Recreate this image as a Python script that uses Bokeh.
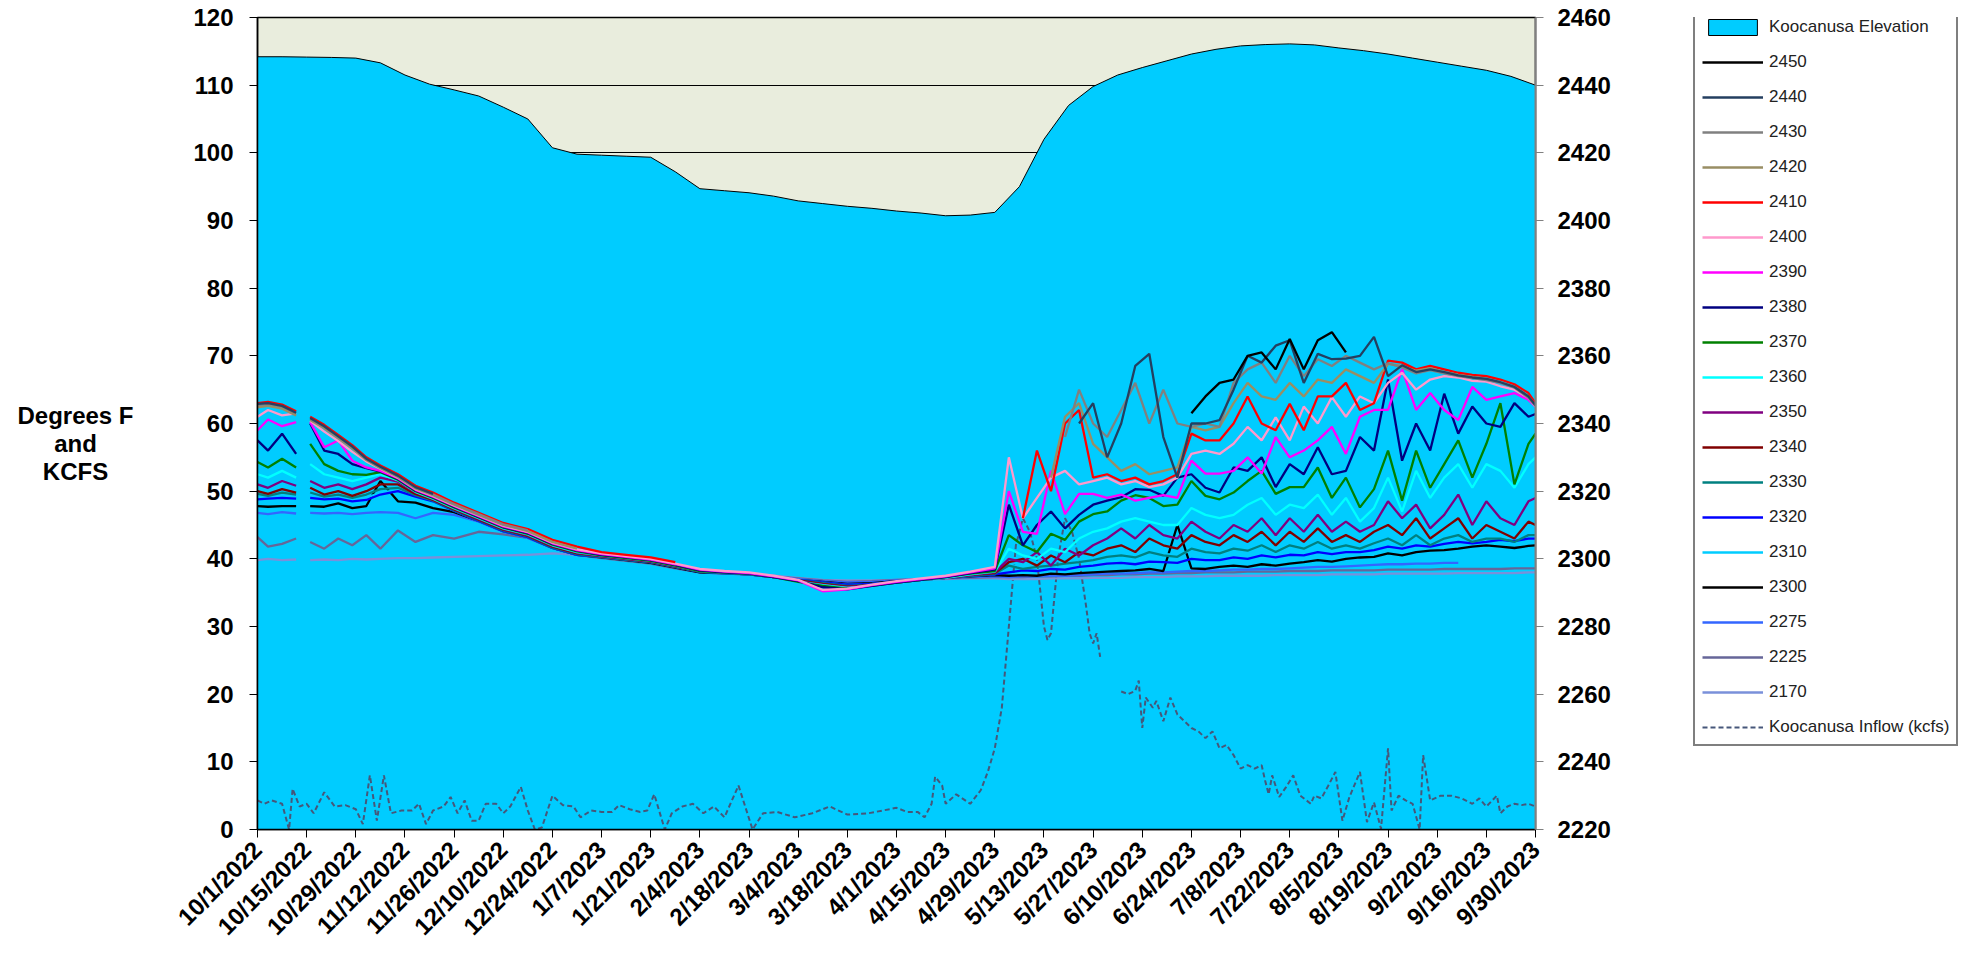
import math
from datetime import datetime
from bokeh.plotting import figure
from bokeh.layouts import row
from bokeh.models import (Range1d, LinearAxis, SingleIntervalTicker, FixedTicker,
                          Legend, LegendItem)
from bokeh.embed import file_html
from bokeh.resources import INLINE

N = float("nan")
START = datetime(2022, 10, 1)

# ---------------- tick labels ----------------
tick_labels = ["10/1/2022", "10/15/2022", "10/29/2022", "11/12/2022", "11/26/2022",
               "12/10/2022", "12/24/2022", "1/7/2023", "1/21/2023", "2/4/2023",
               "2/18/2023", "3/4/2023", "3/18/2023", "4/1/2023", "4/15/2023",
               "4/29/2023", "5/13/2023", "5/27/2023", "6/10/2023", "6/24/2023",
               "7/8/2023", "7/22/2023", "8/5/2023", "8/19/2023", "9/2/2023",
               "9/16/2023", "9/30/2023"]
tick_days = [(datetime.strptime(s, "%m/%d/%Y") - START).days for s in tick_labels]

# ---------------- Koocanusa elevation (ft), weekly from 10/1/2022 ----------------
elev_ft = [2448.4, 2448.4, 2448.3, 2448.2, 2448.0,
           2446.6, 2443.0, 2440.3, 2438.6,
           2436.8, 2433.5, 2430.0, 2421.5, 2419.6,
           2419.3, 2419.0, 2418.7, 2414.4,
           2409.4, 2408.8, 2408.2, 2407.2,
           2405.8, 2405.0, 2404.2, 2403.6,
           2402.8, 2402.2, 2401.4, 2401.6, 2402.4,
           2410.0, 2424.0, 2434.0, 2439.6,
           2443.0, 2445.2, 2447.2, 2449.2,
           2450.6, 2451.6, 2452.0, 2452.2, 2451.9,
           2451.0, 2450.2, 2449.2, 2448.0,
           2446.8, 2445.6, 2444.4, 2442.6, 2440.0]
elev_day = [7 * i for i in range(len(elev_ft))]

# ---------------- Koocanusa inflow (kcfs) ----------------
inflow_day = [0, 2, 4, 7, 9, 10, 12, 14, 16, 19,
              22, 25, 28, 30, 32, 34, 36, 38, 41, 44,
              46, 48, 50, 53, 55, 57, 59, 61, 63, 65,
              68, 70, 72, 75, 77, 79, 81, 84, 87, 90,
              92, 95, 98, 101, 103, 106, 109, 111, 113, 116,
              118, 121, 124, 127, 130, 133, 137, 141, 144, 148,
              153, 158, 163, 168, 174, 178, 182, 185, 188, 190,
              192, 193, 195, 196, 199, 203, 206, 208, 210, 212,
              214, 216, 218, 220, 222, 224, 225, 226, 228, 230,
              232, 234, 236, 237, 238, 239, 240, 243, 246, 248,
              250, 251, 252, 253, 255, 256, 258, 260, 262, 264,
              266, 268, 270, 272, 274, 276, 278, 280, 282, 284,
              286, 287, 288, 289, 291, 293, 295, 297, 300, 301,
              303, 305, 307, 309, 311, 314, 316, 318, 320, 322,
              323, 325, 327, 329, 331, 332, 334, 337, 340, 343,
              346, 348, 350, 353, 354, 356, 358, 360, 362, 364]
inflow_kcfs = [4.3, 3.8, 4.3, 3.8, 0.0, 6.0, 3.4, 3.8, 2.4, 5.5,
               3.4, 3.6, 3.0, 0.8, 8.0, 1.3, 8.0, 2.4, 2.8, 2.8,
               3.8, 0.8, 2.8, 3.4, 4.8, 2.4, 4.3, 1.3, 1.3, 3.8,
               3.8, 2.4, 3.4, 6.3, 2.8, 0.0, 0.3, 5.0, 3.6, 3.4,
               1.8, 2.8, 2.6, 2.6, 3.6, 3.0, 2.6, 2.8, 5.2, 0.0,
               2.4, 3.4, 3.8, 2.4, 3.4, 1.8, 6.5, 0.0, 2.4, 2.6,
               1.8, 2.4, 3.4, 2.2, 2.4, 2.8, 3.2, 2.6, 2.6, 1.8,
               3.8, 7.8, 6.5, 3.8, 5.2, 3.8, 5.8, 8.5, 12.0, 18.0,
               30.0, 42.0, 46.0, 44.0, 40.0, 30.0, 28.0, 29.0, 40.0, 46.0,
               44.0, 40.0, 33.0, 29.0, 27.5, 29.0, 25.5, N, 20.4, 20.0,
               20.5, 22.0, 15.0, 19.5, 18.0, 19.0, 16.0, 19.5, 17.0, 16.0,
               15.0, 14.5, 13.5, 14.5, 12.0, 12.5, 11.0, 9.0, 9.5, 9.0,
               9.5, 7.2, 5.2, 8.0, 4.8, 6.3, 8.0, 5.0, 3.8, 5.0,
               4.6, 6.5, 8.5, 1.3, 4.8, 8.5, 1.1, 4.0, 0.1, 12.0,
               2.8, 5.0, 4.3, 3.8, 0.0, 11.0, 4.3, 5.0, 5.0, 4.6,
               3.8, 4.6, 3.4, 5.0, 2.4, 3.4, 3.8, 3.6, 3.8, 3.4]

# ---------------- temperature sample days (days since 10/1/2022) ----------------
temp_day = [0, 3, 7, 11, 13, 15, 19, 23, 27, 31,
            35, 40, 45, 50, 56, 63, 70, 77, 84, 91,
            98, 105, 112, 119, 126, 133, 140, 147, 154, 161,
            168, 175, 182, 189, 196, 203, 210, 214, 218, 222,
            226, 230, 234, 238, 242, 246, 250, 254, 258, 262,
            266, 270, 274, 278, 282, 286, 290, 294, 298, 302,
            306, 310, 314, 318, 322, 326, 330, 334, 338, 342,
            346, 350, 354, 358, 362, 364]

# temperatures (deg F) by sensor elevation: fall (20) + winter (17) + summer (39)
t2450 = ([N] * 20 + [N] * 17 + [N] * 13 +
         [61.5, 64.0, 66.0, 66.5, 70.0, 70.5, 68.0, 72.5, 68.0, 72.3, 73.5, 70.5] + [N] * 14)
t2440 = ([62.9, 63.0, 62.6, 61.6, N, 60.8, 59.6, 58.1, 56.6, 54.8,
          53.6, 52.3, 50.6, 49.6, N, N, N, N, N, N] + [N] * 17 + [N] * 5 +
         [60.0, 63.0, 55.0, 60.0, 68.5, 70.3, 58.0, 52.0, 60.0, 60.0,
          60.5, 65.0, 70.0, 69.0, 71.5, 72.3, 66.0, 70.3, 69.5, 69.6,
          70.0, 72.8, 67.0, 68.6, 67.6, 68.0, 67.6, 67.1, 66.8, 66.6,
          66.1, 65.4, 64.0, 62.7])
t2430 = ([62.7, 62.9, 62.5, 61.5, N, 60.7, 59.5, 58.0, 56.5, 54.7,
          53.5, 52.2, 50.5, 49.5, 48.1, 46.6, 45.1, 44.2, N, N] + [N] * 17 + [N] * 4 +
         [58.0, 65.0, 60.0, 58.0, 62.0, 66.0, 60.0, 65.0, 60.0, 59.5,
          60.0, 59.5, 66.0, 68.0, 69.0, 66.0, 70.0, 67.0, 69.5, 68.5,
          70.0, 69.0, 68.0, 68.9, 68.3, 67.4, 67.9, 67.4, 67.0, 66.7,
          66.4, 66.0, 65.3, 63.8, 62.6])
t2420 = ([62.4, 62.6, 62.2, 61.2, N, 60.5, 59.3, 57.8, 56.3, 54.6,
          53.4, 52.1, 50.4, 49.4, 48.0, 46.5, 45.0, 44.1, 42.5, 41.5] + [N] * 17 + [N] * 3 +
         [52.0, 61.0, 63.0, 57.0, 55.0, 53.0, 54.0, 52.5, 53.0, 53.5,
          59.5, 59.0, 59.5, 63.0, 66.0, 64.0, 63.5, 66.0, 64.0, 66.5,
          66.0, 68.0, 67.0, 66.0, 68.8, 68.5, 67.8, 68.2, 67.6, 67.2,
          66.9, 66.6, 66.1, 65.4, 64.0, 62.7])
t2410 = ([63.0, 63.2, 62.8, 61.8, N, 61.0, 59.8, 58.3, 56.8, 55.0,
          53.8, 52.5, 50.8, 49.8, 48.3, 46.8, 45.3, 44.4, 42.8, 41.8] +
         [41.0, 40.6, 40.2, 39.5] + [N] * 13 + [N] +
         [46.0, 56.0, 50.0, 60.0, 62.0, 52.0, 52.5, 51.5, 52.0, 51.0,
          51.5, 52.5, 58.5, 57.5, 57.5, 60.0, 64.0, 60.0, 59.0, 62.9,
          59.0, 64.0, 64.0, 66.0, 62.0, 63.0, 69.3, 69.0, 68.0, 68.5,
          68.0, 67.5, 67.2, 67.0, 66.5, 65.8, 64.5, 63.0])
t2400 = ([61.0, 62.0, 61.2, 61.5, N, 60.4, 58.8, 57.4, 55.8, 54.4,
          53.3, 52.0, 50.3, 49.3, 47.9, 46.4, 44.9, 44.0, 42.4, 41.4] +
         [40.8, 40.4, 40.0, 39.3, 38.5, 38.2, 38.0, 37.5, 36.9, 35.4,
          35.6, 36.2, 36.7, 37.1, 37.5, 38.1, 38.8] +
         [55.0, 46.0, 49.0, 52.0, 53.0, 51.0, 51.5, 52.0, 51.0, 51.5,
          50.6, 51.0, 52.0, 55.5, 56.0, 55.5, 57.0, 59.5, 57.5, 60.9,
          57.5, 62.5, 60.0, 63.9, 61.0, 64.0, 63.0, 66.0, 67.5, 65.0,
          66.5, 67.0, 66.8, 66.3, 66.2, 65.5, 65.0, 63.8, 62.5])
t2390 = ([59.0, 60.6, 59.6, 60.2, N, 60.2, 56.5, 57.5, 54.5, 53.5,
          53.0, 51.9, 50.2, 49.2, 47.8, 46.3, 44.8, 43.9, 42.3, 41.3] +
         [40.7, 40.3, 39.9, 39.2, 38.4, 38.1, 37.9, 37.4, 36.8, 35.2,
          35.5, 36.1, 36.6, 37.0, 37.4, 38.0, 38.6] +
         [50.0, 44.0, 43.7, 53.0, 46.6, 49.6, 49.6, 49.0, 49.5, 48.6,
          49.0, 49.4, 49.0, 54.5, 52.6, 52.6, 53.0, 55.0, 52.6, 58.0,
          55.0, 56.0, 57.5, 59.5, 55.5, 61.0, 62.0, 62.0, 68.0, 62.0,
          64.5, 62.0, 60.5, 65.4, 63.5, 64.0, 64.5, 63.5, 62.5])
t2380 = ([57.5, 56.0, 58.5, 55.5, N, 60.0, 56.0, 55.5, 54.0, 53.4,
          52.9, 51.8, 50.1, 49.1, 47.7, 46.2, 44.7, 43.8, 42.2, 41.2] +
         [40.6, 40.2, 39.8, 39.1, 38.3, 38.0, 37.8, 37.3, 36.7, 35.8,
          35.5, 36.0, 36.5, 36.9, 37.3, 37.9, 38.4] +
         [48.0, 42.0, 45.0, 47.0, 44.5, 46.5, 48.0, 48.6, 49.1, 50.3,
          50.2, 49.3, 52.0, 52.5, 50.5, 49.8, 53.5, 53.0, 55.0, 50.6,
          54.0, 52.5, 56.5, 52.5, 53.0, 58.0, 56.0, 66.5, 54.5, 60.0,
          56.0, 64.4, 58.5, 62.5, 60.0, 59.5, 63.0, 61.0, 61.4])
t2370 = ([54.3, 53.5, 54.8, 53.5, N, 57.0, 54.0, 53.0, 52.5, 52.4,
          52.8, 51.7, 50.0, 49.0, 47.6, 46.1, 44.6, 43.7, 42.1, 41.1] +
         [40.5, 40.1, 39.7, 39.0, 38.2, 38.0, 37.8, 37.3, 36.6, 36.0,
          35.6, 36.0, 36.5, 36.9, 37.3, 37.8, 38.2] +
         [43.5, 42.0, 41.0, 43.7, 42.8, 45.5, 46.6, 47.0, 48.6, 49.4,
          49.0, 47.8, 48.0, 51.5, 49.3, 48.8, 49.8, 51.5, 53.0, 49.6,
          50.6, 50.6, 53.5, 49.0, 52.0, 47.6, 50.3, 56.0, 48.6, 56.0,
          50.5, 54.0, 57.5, 52.0, 57.0, 63.0, 51.0, 57.0, 58.5])
t2360 = ([52.5, 52.0, 53.0, 52.0, N, 54.0, 52.5, 52.0, 51.5, 52.0,
          52.5, 51.6, 49.9, 48.9, 47.5, 46.0, 44.5, 43.6, 42.0, 41.0] +
         [40.5, 40.1, 39.7, 39.0, 38.2, 38.0, 37.8, 37.3, 36.6, 36.1,
          35.7, 36.0, 36.5, 36.9, 37.2, 37.7, 38.1] +
         [41.5, 40.5, 40.0, 41.5, 41.0, 43.0, 44.0, 44.5, 45.5, 46.0,
          45.5, 45.0, 45.0, 47.5, 46.5, 46.0, 46.5, 48.0, 49.0, 46.5,
          48.0, 47.5, 49.5, 46.5, 49.0, 45.5, 47.5, 52.0, 47.0, 53.0,
          49.0, 52.0, 54.0, 50.5, 54.0, 53.0, 50.5, 54.0, 55.0])
t2350 = ([51.0, 50.5, 51.5, 50.8, N, 51.5, 50.5, 51.0, 50.3, 51.0,
          52.0, 51.4, 49.8, 48.8, 47.4, 45.9, 44.4, 43.5, 41.9, 40.9] +
         [40.4, 40.0, 39.6, 38.9, 38.2, 38.0, 37.8, 37.3, 36.7, 36.2,
          35.8, 36.1, 36.5, 36.9, 37.2, 37.6, 38.0] +
         [40.0, 39.5, 41.0, 39.0, 41.5, 40.5, 42.0, 43.0, 44.5, 43.0,
          45.0, 43.5, 43.0, 45.5, 44.0, 43.0, 45.0, 44.0, 46.0, 43.5,
          46.0, 44.0, 46.5, 44.0, 45.5, 44.0, 45.0, 48.5, 46.0, 48.0,
          44.5, 46.5, 49.5, 45.0, 48.5, 46.0, 45.0, 48.5, 49.0])
t2340 = ([50.0, 49.6, 50.3, 49.8, N, 50.5, 49.5, 50.0, 49.3, 50.0,
          51.0, 51.0, 49.6, 48.7, 47.3, 45.8, 44.3, 43.4, 41.8, 40.8] +
         [40.4, 40.0, 39.6, 38.9, 38.2, 38.0, 37.8, 37.3, 36.8, 36.3,
          35.9, 36.1, 36.5, 36.9, 37.2, 37.6, 37.9] +
         [39.5, 40.0, 39.0, 40.5, 39.5, 41.0, 40.5, 41.5, 42.0, 41.0,
          43.0, 42.0, 41.5, 43.5, 42.5, 42.0, 43.5, 42.5, 44.0, 42.0,
          44.0, 42.5, 44.5, 42.5, 43.5, 42.5, 44.0, 45.0, 43.5, 46.0,
          43.0, 44.5, 46.0, 43.0, 45.0, 44.0, 43.0, 45.5, 45.0])
t2330 = ([49.6, 49.3, 49.8, 49.5, N, 49.8, 49.2, 49.5, 49.0, 49.5,
          50.3, 50.5, 49.4, 48.6, 47.2, 45.7, 44.2, 43.3, 41.7, 40.7] +
         [40.3, 39.9, 39.5, 38.8, 38.1, 37.9, 37.7, 37.3, 36.8, 36.4,
          36.0, 36.2, 36.6, 36.9, 37.2, 37.5, 37.8] +
         [39.0, 38.5, 38.8, 39.0, 39.3, 39.5, 39.8, 40.3, 40.5, 40.2,
          41.0, 40.5, 40.3, 41.5, 41.0, 40.8, 41.5, 41.2, 42.0, 41.0,
          42.0, 41.5, 42.5, 41.5, 42.0, 41.5, 42.3, 43.0, 42.0, 43.5,
          42.0, 43.0, 43.5, 42.5, 43.0, 43.0, 42.5, 43.5, 43.5])
t2320 = ([48.8, 48.9, 49.0, 48.9, N, 49.0, 48.8, 48.9, 48.5, 48.7,
          49.5, 50.0, 49.2, 48.5, 47.1, 45.6, 44.1, 43.2, 41.6, 40.6] +
         [40.3, 39.9, 39.5, 38.8, 38.1, 37.9, 37.7, 37.3, 36.9, 36.5,
          36.2, 36.3, 36.6, 36.9, 37.2, 37.5, 37.7] +
         [38.0, 38.3, 38.2, 38.5, 38.4, 38.8, 39.0, 39.3, 39.4, 39.2,
          39.6, 39.5, 39.4, 40.0, 39.8, 39.8, 40.2, 40.0, 40.5, 40.2,
          40.6, 40.5, 41.0, 40.7, 41.0, 41.0, 41.3, 41.8, 41.5, 42.0,
          41.8, 42.2, 42.5, 42.3, 42.5, 42.8, 42.6, 43.0, 43.0])
t2310 = ([49.1, 49.2, 49.3, 49.2, N, 49.3, 49.1, 49.2, 48.8, 49.0,
          49.8, 50.2, 49.3, 48.5, 47.1, 45.6, 44.1, 43.2, 41.6, 40.6] +
         [40.3, 39.9, 39.5, 38.8, 38.1, 37.9, 37.7, 37.3, 36.9, 36.5,
          36.2, 36.3, 36.6, 36.9, 37.2, 37.5, 37.7] +
         [39.2, 39.5, 39.4, 39.7, 39.6, 40.0, 40.2, 40.5, 40.6, 40.4,
          40.8, 40.7, 40.6, 41.2, 41.0, 41.0, 41.4, 41.2, 41.7, 41.4,
          41.8, 41.7, 42.2, 41.9, 42.2, 42.2, 42.5, 43.0, 42.7, 43.2,
          43.0, 43.4, 43.7, 43.5, 43.7, 44.0, 43.8, 44.2, 44.2])
t2300 = ([47.8, 47.7, 47.8, 47.8, N, 47.8, 47.7, 48.2, 47.5, 47.8,
          51.5, 48.5, 48.3, 47.5, 46.9, 45.6, 44.1, 43.2, 41.6, 40.6] +
         [40.2, 39.8, 39.4, 38.7, 38.0, 37.9, 37.7, 37.3, 36.9, 36.6,
          36.3, 36.4, 36.7, 37.0, 37.2, 37.4, 37.6] +
         [37.5, 37.6, 37.5, 37.8, 37.7, 37.9, 38.0, 38.1, 38.2, 38.3,
          38.5, 38.2, 45.0, 38.6, 38.5, 38.8, 39.0, 38.8, 39.2, 39.0,
          39.3, 39.5, 39.8, 39.6, 40.0, 40.2, 40.3, 40.8, 40.5, 41.0,
          41.2, 41.3, 41.5, 41.8, 42.0, 41.8, 41.6, 41.9, 42.0])
t2275 = ([46.8, 46.6, 46.9, 46.7, N, 46.8, 46.7, 46.8, 46.6, 46.8,
          46.9, 46.8, 46.0, 46.8, 46.5, 45.5, 44.0, 43.1, 41.6, 40.6] +
         [40.2, 39.8, 39.4, 38.7, 38.0, 37.8, 37.7, 37.4, 37.0, 36.7,
          36.5, 36.6, 36.8, 37.0, 37.2, 37.3, 37.4] +
         [37.3, 37.4, 37.4, 37.5, 37.5, 37.6, 37.7, 37.8, 37.8, 37.9,
          38.0, 38.0, 38.1, 38.2, 38.2, 38.3, 38.4, 38.4, 38.5, 38.5,
          38.6, 38.7, 38.8, 38.8, 38.9, 39.0, 39.1, 39.2, 39.2, 39.3,
          39.3, 39.4, 39.4, N, N, N, N, N, N])
t2225 = ([43.2, 41.8, 42.2, 43.0, N, 42.5, 41.5, 43.0, 42.0, 43.5,
          41.5, 44.2, 42.5, 43.5, 43.0, 44.0, 43.6, 43.1, 41.6, 40.6] +
         [40.1, 39.7, 39.3, 38.6, 38.0, 37.8, 37.7, 37.4, 37.1, 36.8,
          36.6, 36.7, 36.9, 37.0, 37.1, 37.2, 37.3] +
         [37.3, 37.3, 37.4, 37.4, 37.5, 37.5, 37.6, 37.6, 37.7, 37.7,
          37.8, 37.8, 37.9, 37.9, 38.0, 38.0, 38.0, 38.1, 38.1, 38.1,
          38.2, 38.2, 38.2, 38.3, 38.3, 38.3, 38.3, 38.4, 38.4, 38.4,
          38.4, 38.5, 38.5, 38.5, 38.5, 38.5, 38.6, 38.6, 38.6])
t2170 = ([39.8, 40.0, 39.8, 39.9, N, 39.8, 39.9, 39.8, 40.0, 39.9,
          40.0, 40.1, 40.1, 40.2, 40.3, 40.4, 40.5, 40.6, 40.8, 40.6] +
         [40.5, 39.9, 39.4, 38.7, 38.1, 37.9, 37.7, 37.5, 37.2, 36.9,
          36.8, 36.8, 36.9, 37.0, 37.0, 37.1, 37.1] +
         [37.0, 37.0, 37.0, 37.1, 37.1, 37.1, 37.2, 37.2, 37.2, 37.3,
          37.3, 37.3, 37.4, 37.4, 37.4, 37.5, 37.5, 37.5, 37.5, 37.6,
          37.6, 37.6, 37.6, 37.7, 37.7, 37.7, 37.7, 37.8, 37.8, 37.8,
          37.8, 37.8, 37.9, 37.9, 37.9, 37.9, 37.9, 38.0, 38.0])

sensor_names = ["2450", "2440", "2430", "2420", "2410", "2400", "2390", "2380", "2370",
                "2360", "2350", "2340", "2330", "2320", "2310", "2300", "2275", "2225", "2170"]
sensor_temps = [t2450, t2440, t2430, t2420, t2410, t2400, t2390, t2380, t2370,
                t2360, t2350, t2340, t2330, t2320, t2310, t2300, t2275, t2225, t2170]
sensor_colors = ["#000000", "#243F60", "#808080", "#998E64", "#FF0000", "#FF99CC",
                 "#FF00FF", "#000080", "#008000", "#00FFFF", "#800080", "#800000",
                 "#008080", "#0000FF", "#00CCFF", "#000000", "#3366FF", "#666699", "#7A90DA"]

FONT = "Liberation Sans"
TOTAL_H = 949
FRAME_TOP = 17
FRAME_H = 812
LEFT_W = 150
LINE_W = 2.3
ELEV_FILL = "#00CCFF"
INFLOW_COLOR = "#46577A"

# ---------------- main plot ----------------
p = figure(frame_width=1278, frame_height=FRAME_H,
           x_range=Range1d(0, 364), y_range=Range1d(0, 120),
           min_border_left=257 - LEFT_W, min_border_right=100, min_border_top=FRAME_TOP,
           min_border_bottom=TOTAL_H - FRAME_TOP - FRAME_H,
           output_backend="svg", toolbar_location=None,
           background_fill_color="#E9EDDD", border_fill_color="white")
p.extra_y_ranges = {"elev": Range1d(2220, 2460)}
p.outline_line_color = "black"
p.outline_line_width = 1.5

p.xgrid.visible = False
p.ygrid.ticker = SingleIntervalTicker(interval=10, num_minor_ticks=0)
p.ygrid.grid_line_color = "black"
p.ygrid.grid_line_width = 1

ex = [elev_day[0]] + elev_day + [elev_day[-1]]
ey = [2220.0] + elev_ft + [2220.0]
p.patch(ex, ey, y_range_name="elev", fill_color=ELEV_FILL, line_color="black", line_width=1)

p.line(inflow_day, inflow_kcfs, line_color=INFLOW_COLOR, line_width=2, line_dash="5 3")

for name, vals, col in reversed(list(zip(sensor_names, sensor_temps, sensor_colors))):
    vals = list(vals)[:len(temp_day)]
    vals += [N] * (len(temp_day) - len(vals))
    p.line(temp_day, vals, line_color=col, line_width=LINE_W)

ya = p.yaxis[0]
ya.ticker = SingleIntervalTicker(interval=10, num_minor_ticks=0)
ya.axis_line_color = "black"
ya.axis_line_width = 1.5
ya.major_tick_line_color = "black"
ya.major_tick_out = 8
ya.major_tick_in = 0
ya.minor_tick_line_color = None
ya.major_label_standoff = 16
ya.major_label_text_font = FONT
ya.major_label_text_font_size = "24px"
ya.major_label_text_font_style = "bold"
ya.major_label_text_color = "black"

ra = LinearAxis(y_range_name="elev", ticker=SingleIntervalTicker(interval=20, num_minor_ticks=0))
ra.axis_line_color = "#808080"
ra.axis_line_width = 2
ra.major_tick_line_color = "#808080"
ra.major_tick_out = 8
ra.major_tick_in = 0
ra.minor_tick_line_color = None
ra.major_label_standoff = 14
ra.major_label_text_font = FONT
ra.major_label_text_font_size = "24px"
ra.major_label_text_font_style = "bold"
ra.major_label_text_color = "black"
p.add_layout(ra, "right")

xa = p.xaxis[0]
xa.ticker = FixedTicker(ticks=tick_days)
xa.major_label_overrides = {int(d): lab for d, lab in zip(tick_days, tick_labels)}
xa.major_label_orientation = math.pi / 4
xa.axis_line_color = "black"
xa.axis_line_width = 1.5
xa.major_tick_line_color = "black"
xa.major_tick_out = 8
xa.major_tick_in = 0
xa.minor_tick_line_color = None
xa.major_label_standoff = 8
xa.major_label_text_font = FONT
xa.major_label_text_font_size = "24px"
xa.major_label_text_font_style = "bold"
xa.major_label_text_color = "black"

# ---------------- left strip with the vertical-axis title ----------------
# (frames of plots in a row are aligned, so this frame spans the main frame's height)
pl = figure(width=LEFT_W, height=TOTAL_H, x_range=Range1d(0, LEFT_W), y_range=Range1d(FRAME_H, 0),
            x_axis_location=None, y_axis_location=None, min_border=0,
            output_backend="svg", toolbar_location=None,
            background_fill_color="white", border_fill_color="white")
pl.outline_line_color = None
pl.grid.visible = False
pl.text(x=[75], y=[445 - FRAME_TOP], text=["Degrees F\nand\nKCFS"], text_align="center",
        text_baseline="middle", text_font={"value": FONT}, text_font_size={"value": "24px"},
        text_font_style="bold", text_color="black", text_line_height=1.04)

# ---------------- right strip with the legend ----------------
main_w = 257 + 1278 + 100
LEG_W = 1965 - main_w
pr = figure(width=LEG_W, height=TOTAL_H, x_range=Range1d(0, 1), y_range=Range1d(0, 1),
            x_axis_location=None, y_axis_location=None, min_border=0,
            output_backend="svg", toolbar_location=None,
            background_fill_color="white", border_fill_color="white")
pr.outline_line_color = None
pr.grid.visible = False

# legend swatches (their data lie outside this strip's ranges, so only the legend shows them)
hx, hy = [2, 3, 3], [2, 2, 3]
items = [LegendItem(label="Koocanusa Elevation",
                    renderers=[pr.patch(hx, hy, fill_color=ELEV_FILL, line_color="black", line_width=1)])]
for name, col in zip(sensor_names, sensor_colors):
    items.append(LegendItem(label=name,
                            renderers=[pr.line(hx[:2], hy[:2], line_color=col, line_width=LINE_W)]))
items.append(LegendItem(label="Koocanusa Inflow (kcfs)",
                        renderers=[pr.line(hx[:2], hy[:2], line_color=INFLOW_COLOR, line_width=2,
                                           line_dash="5 3")]))
legend = Legend(items=items, location=(1693 - main_w, (FRAME_TOP + FRAME_H) - 749),
                orientation="vertical",
                border_line_color="black", border_line_width=2,
                background_fill_color="white", background_fill_alpha=1.0,
                label_text_font=FONT, label_text_font_size="17px", label_text_color="#222222",
                glyph_width=61, glyph_height=20, label_height=20, spacing=15,
                padding=7, margin=0, label_standoff=6)
pr.add_layout(legend)

layout = row(pl, p, pr)
open("out.html", "w").write(file_html(layout, INLINE))
